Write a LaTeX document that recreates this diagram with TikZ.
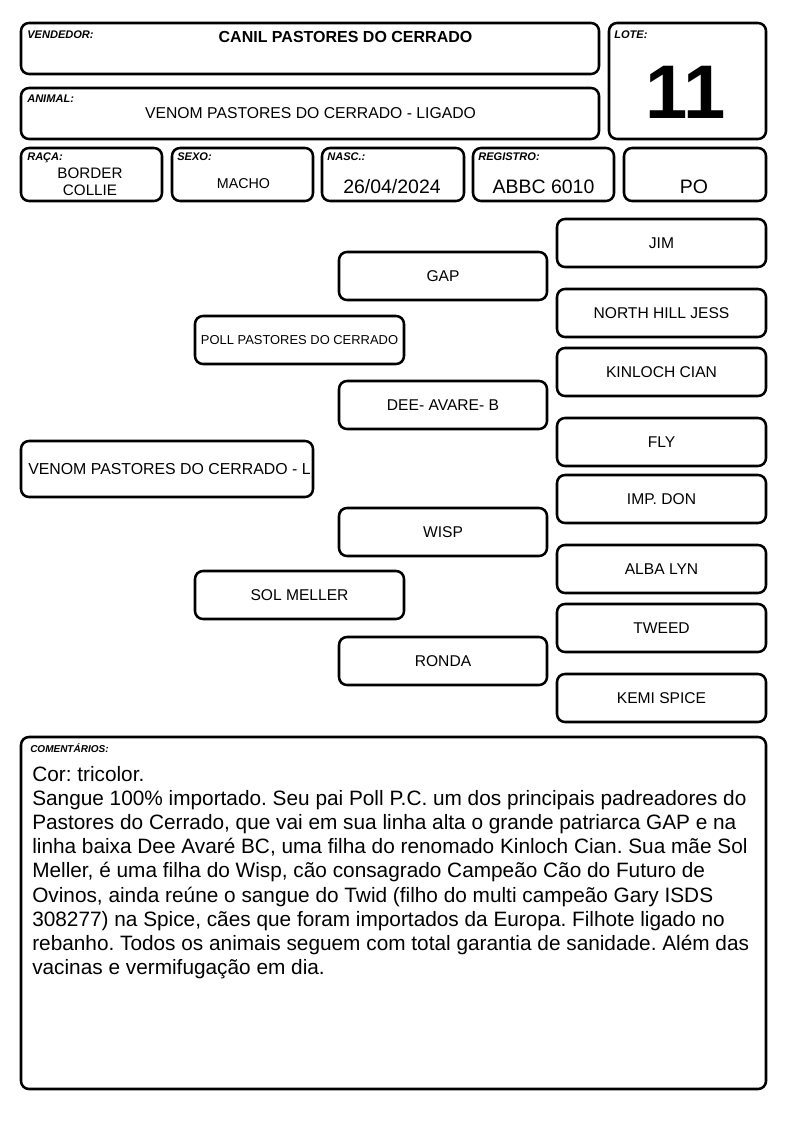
\documentclass[tikz,border=0pt]{standalone}
\usepackage{fontspec}
\setmainfont{Liberation Sans}
\usetikzlibrary{positioning}

\tikzset{
  cell/.style={draw, line width=1.9pt, rounded corners=6pt},
  tag/.style={inner sep=0pt, anchor=base west, font=\bfseries\itshape\fontsize{8.3}{9}\selectfont},
  dog/.style={inner sep=0pt, font=\fontsize{11.7}{14}\selectfont},
  value/.style={inner sep=0pt, anchor=base},
}

\begin{document}
\frenchspacing
\begin{tikzpicture}[x=0.75pt, y=-0.75pt]
    \useasboundingbox (0,0) rectangle (794,1123);

    % header
    \draw[cell] (21,23) rectangle (599,74);
    \draw[cell] (609,23) rectangle (766,139);
    \draw[cell] (21,88) rectangle (599,139);
    \node[tag] (vendedor) at (27,39) {VENDEDOR:};
    \node[value, font=\bfseries\fontsize{12}{14}\selectfont] (canil) at (345.5,43) {CANIL PASTORES DO CERRADO};
    \node[tag] (lote) at (614,39) {LOTE:};
    \node[value, font=\bfseries\fontsize{57}{60}\selectfont] (lotenum) at (686,119) {11};
    \node[tag] (animal) at (27,103) {ANIMAL:};
    \node[value, font=\fontsize{11.8}{14}\selectfont] (animalname) at (310.5,119) {VENOM PASTORES DO CERRADO - LIGADO};

    % data row
    \foreach \xa/\xb in {21/162, 172/313, 322/464, 473/614, 624/766}
        \draw[cell] (\xa,148) rectangle (\xb,201);
    \node[tag] (raca) at (27,161) {RAÇA:};
    \node[tag] (sexo) at (177,161) {SEXO:};
    \node[tag] (nasc) at (327,161) {NASC.:};
    \node[tag] (registro) at (478,161) {REGISTRO:};
    \node[inner sep=0pt, font=\fontsize{11.4}{12.8}\selectfont, align=center] (breed) at (90,181.5) {BORDER\\COLLIE};
    \node[value, font=\fontsize{10.7}{12}\selectfont] (sex) at (243.5,189) {MACHO};
    \node[value, font=\fontsize{14.6}{16}\selectfont] (birth) at (392,194) {26/04/2024};
    \node[value, font=\fontsize{14.6}{16}\selectfont] (reg) at (543.5,194) {ABBC 6010};
    \node[value, font=\fontsize{14.6}{16}\selectfont] (po) at (694,194) {PO};

    % pedigree
    \foreach \nm/\xa/\ya/\xb/\yb/\txt in {
        jim/557/219/766/267/JIM,
        gap/339/252/547/300/GAP,
        jess/557/289/766/337/NORTH HILL JESS,
        cian/557/348/766/396/KINLOCH CIAN,
        dee/339/381/547/429/DEE- AVARE- B,
        fly/557/418/766/466/FLY,
        don/557/475/766/523/IMP. DON,
        wisp/339/508/547/556/WISP,
        alba/557/545/766/593/ALBA LYN,
        sol/195/571/404/619/SOL MELLER,
        tweed/557/604/766/652/TWEED,
        ronda/339/637/547/685/RONDA,
        kemi/557/674/766/722/KEMI SPICE} {
        \draw[cell] (\xa,\ya) rectangle (\xb,\yb);
        \node[dog] (\nm) at ({(\xa+\xb)/2},{(\ya+\yb)/2}) {\txt};
    }
    \draw[cell] (195,316) rectangle (404,364);
    \node[dog, font=\fontsize{9.7}{12}\selectfont] (poll) at (299.5,340) {POLL PASTORES DO CERRADO};
    \draw[cell] (21,441) rectangle (313,497);
    \node[dog, anchor=west, font=\fontsize{11.9}{14}\selectfont] (venom) at (28,469) {VENOM PASTORES DO CERRADO - L};

    % comments
    \draw[cell] (21,737) rectangle (766,1089);
    \node[tag, font=\bfseries\itshape\fontsize{7.5}{9}\selectfont] (comentarios) at (30,752) {COMENTÁRIOS:};
    \node[inner sep=0pt, anchor=north west, align=left, font=\fontsize{15.6}{18.1}\selectfont] (notes) at (32,766) {%
        Cor: tricolor.\\
        Sangue 100\% importado. Seu pai Poll P.C. um dos principais padreadores do\\
        Pastores do Cerrado, que vai em sua linha alta o grande patriarca GAP e na\\
        linha baixa Dee Avaré BC, uma filha do renomado Kinloch Cian. Sua mãe Sol\\
        Meller, é uma filha do Wisp, cão consagrado Campeão Cão do Futuro de\\
        Ovinos, ainda reúne o sangue do Twid (filho do multi campeão Gary ISDS\\
        308277) na Spice, cães que foram importados da Europa. Filhote ligado no\\
        rebanho. Todos os animais seguem com total garantia de sanidade. Além das\\
        vacinas e vermifugação em dia.};
\end{tikzpicture}
\end{document}
